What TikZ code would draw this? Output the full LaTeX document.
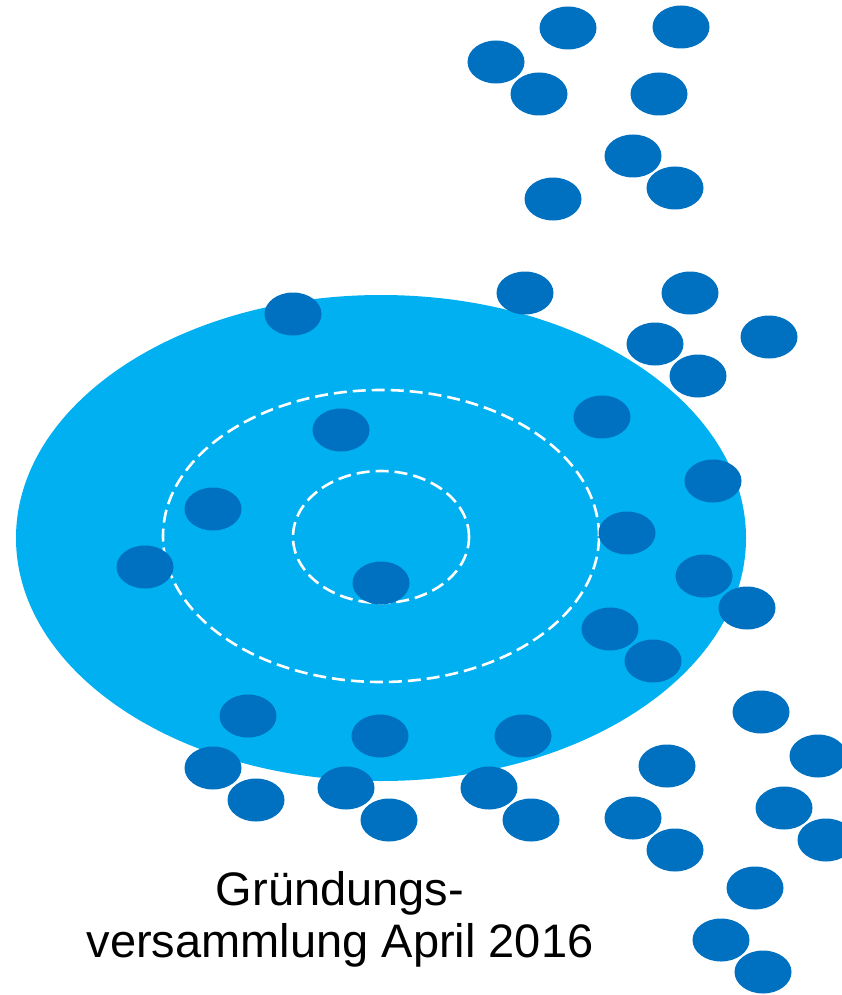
\documentclass[tikz,border=0pt]{standalone}
\usepackage{fontspec}
\setmainfont{Liberation Sans}
\usetikzlibrary{shapes.geometric, positioning}
\definecolor{poolblue}{HTML}{00B0F0}
\definecolor{memberblue}{HTML}{0070C0}

\begin{document}
\begin{tikzpicture}[
  x=1pt, y=-1pt,
  member/.style={ellipse, fill=memberblue, minimum width=57pt, minimum height=43pt, inner sep=0pt},
  ring/.style={white, line width=2.6pt, dash pattern=on 13pt off 6pt},
  caption/.style={anchor=base, font=\fontsize{47}{54}\selectfont}]

  \useasboundingbox (0,0) rectangle (842,995);

  % pool and rings
  \fill[poolblue] (381,538) ellipse [x radius=365pt, y radius=243pt];
  \draw[ring] (381,536) ellipse [x radius=218pt, y radius=146pt];
  \draw[ring] (381,537) ellipse [x radius=88pt, y radius=66pt];

  % members
  \foreach \n/\px/\py in {
      m1/568/28, m2/681/27, m3/496/62, m4/539/94, m5/659/94,
      m6/633/156, m7/675/188, m8/553/199, m9/525/293, m10/690/293,
      m11/293/314, m12/655/344, m13/769/337, m14/698/376, m15/602/417,
      m16/341/430, m17/713/481, m18/213/509, m19/627/533, m20/145/567,
      m21/381/583, m22/704/576, m23/747/608, m24/610/629, m25/653/661,
      m26/248/716, m27/761/712, m28/380/736, m29/523/736, m30/213/768,
      m31/667/766, m32/818/756, m33/256/800, m34/346/788, m35/489/788,
      m36/784/808, m37/389/820, m38/531/820, m39/633/818, m40/675/850,
      m41/826/840, m42/755/888, m43/721/940, m44/763/972}
    \node[member] (\n) at (\px,\py) {};

  % caption
  \node[caption] (title) at (340,905) {Gründungs-};
  \node[caption] (subtitle) at (340,957) {versammlung April 2016};
\end{tikzpicture}
\end{document}
